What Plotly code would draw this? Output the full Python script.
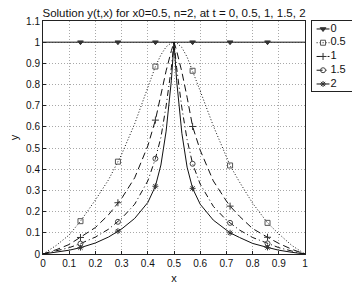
import plotly.graph_objects as go

# ---- data ----
x_curve = [0, 0.05, 0.1, 0.143, 0.2, 0.25, 0.286, 0.3, 0.35, 0.4, 0.429, 0.45, 0.47, 0.49, 0.5,
           0.51, 0.53, 0.55, 0.571, 0.6, 0.65, 0.7, 0.714, 0.75, 0.8, 0.857, 0.9, 0.95, 1.0]
y_t05 = [0, 0.04, 0.09, 0.155, 0.255, 0.35, 0.436, 0.47, 0.615, 0.785, 0.885, 0.94, 0.978, 0.997, 1.0,
         0.997, 0.975, 0.93, 0.865, 0.77, 0.605, 0.455, 0.418, 0.34, 0.24, 0.147, 0.095, 0.04, 0]
y_t1 = [0, 0.02, 0.045, 0.078, 0.125, 0.185, 0.242, 0.262, 0.36, 0.51, 0.632, 0.75, 0.865, 0.96, 1.0,
        0.96, 0.86, 0.74, 0.602, 0.49, 0.345, 0.25, 0.226, 0.178, 0.12, 0.079, 0.05, 0.022, 0]
y_t15 = [0, 0.014, 0.03, 0.049, 0.08, 0.117, 0.152, 0.168, 0.235, 0.345, 0.45, 0.55, 0.70, 0.88, 1.0,
         0.88, 0.69, 0.54, 0.426, 0.33, 0.225, 0.16, 0.147, 0.113, 0.078, 0.05, 0.03, 0.014, 0]
y_t2 = [0, 0.008, 0.018, 0.030, 0.052, 0.08, 0.108, 0.118, 0.168, 0.243, 0.32, 0.42, 0.58, 0.82, 1.0,
        0.82, 0.57, 0.41, 0.31, 0.235, 0.16, 0.112, 0.10, 0.078, 0.05, 0.031, 0.018, 0.008, 0]
x_t0 = [0, 1]
y_t0 = [1, 1]

x_marks = [0.143, 0.286, 0.429, 0.571, 0.714, 0.857]
m_t0 = [1, 1, 1, 1, 1, 1]
m_t05 = [0.155, 0.436, 0.885, 0.865, 0.418, 0.147]
m_t1 = [0.078, 0.242, 0.632, 0.602, 0.226, 0.079]
m_t15 = [0.049, 0.152, 0.45, 0.426, 0.147, 0.05]
m_t2 = [0.030, 0.108, 0.32, 0.31, 0.10, 0.031]

labels = ["0", "0.5", "1", "1.5", "2"]
tick_vals = [0, 0.1, 0.2, 0.3, 0.4, 0.5, 0.6, 0.7, 0.8, 0.9, 1.0]
ytick_vals = [0, 0.1, 0.2, 0.3, 0.4, 0.5, 0.6, 0.7, 0.8, 0.9, 1.0, 1.1]
tick_text = ["0", "0.1", "0.2", "0.3", "0.4", "0.5", "0.6", "0.7", "0.8", "0.9", "1"]
ytick_text = tick_text + ["1.1"]

# ---- layout/style (not data) ----
# the page body has an 8px margin, so the figure is 8px smaller and offset
OFF = 8
W, H = 360 - OFF, 288 - OFF
PLOT_L, PLOT_R, PLOT_T, PLOT_B = 43 - OFF, 305 - OFF, 21 - OFF, 254 - OFF
LEG_L, LEG_R, LEG_T, LEG_B = 312 - OFF, 358 - OFF, 21 - OFF, 91 - OFF
font = "Liberation Sans, Arial, sans-serif"

series = [
    (x_t0, y_t0, m_t0, "solid", "triangle-down", "#333"),
    (x_curve, y_t05, m_t05, "1px,2px", "square-open", "#555"),
    (x_curve, y_t1, m_t1, "7px,4px", "cross-thin-open", "#333"),
    (x_curve, y_t15, m_t15, "6px,3px,1px,3px", "circle-open", "#444"),
    (x_curve, y_t2, m_t2, "solid", "asterisk-open", "#333"),
]

fig = go.Figure()
for i, ((xs, ys, ms, dash, sym, mc), lab) in enumerate(zip(series, labels)):
    fig.add_trace(go.Scatter(x=xs, y=ys, mode="lines", line=dict(color="#111", width=1, dash=dash),
                             showlegend=False, hoverinfo="skip"))
    fig.add_trace(go.Scatter(x=x_marks, y=ms, mode="markers",
                             marker=dict(symbol=sym, size=5, color=mc, line=dict(color=mc, width=1)),
                             showlegend=False, hoverinfo="skip"))
    # legend key, drawn on a small legend axis (row i)
    fig.add_trace(go.Scatter(x=[0.1, 0.38], y=[i, i], mode="lines", xaxis="x2", yaxis="y2",
                             line=dict(color="#111", width=1, dash=dash),
                             showlegend=False, hoverinfo="skip"))
    fig.add_trace(go.Scatter(x=[0.24], y=[i], mode="markers", xaxis="x2", yaxis="y2",
                             marker=dict(symbol=sym, size=5, color=mc, line=dict(color=mc, width=1)),
                             showlegend=False, hoverinfo="skip"))
    fig.add_trace(go.Scatter(x=[0.4], y=[i], mode="text", text=[lab], textposition="middle right",
                             xaxis="x2", yaxis="y2",
                             textfont=dict(size=11, color="#111", family=font),
                             showlegend=False, hoverinfo="skip"))

axis_common = dict(
    showline=True, linecolor="#222", linewidth=1, mirror=True,
    showgrid=True, gridcolor="#a8a8a8", griddash="1px,2px", gridwidth=1,
    ticks="inside", ticklen=3, tickcolor="#222",
    tickfont=dict(size=10, color="#111", family=font), zeroline=False,
)
fig.update_layout(
    xaxis=dict(domain=[PLOT_L / W, PLOT_R / W], range=[0, 1], tickvals=tick_vals, ticktext=tick_text,
               title=dict(text="x", font=dict(size=11, color="#111", family=font), standoff=6),
               **axis_common),
    yaxis=dict(domain=[1 - PLOT_B / H, 1 - PLOT_T / H], range=[0, 1.1], tickvals=ytick_vals,
               ticktext=ytick_text,
               title=dict(text="y", font=dict(size=11, color="#111", family=font), standoff=5),
               **axis_common),
    xaxis2=dict(domain=[LEG_L / W, LEG_R / W], range=[0, 1], showgrid=False, zeroline=False,
                showticklabels=False, ticks="", showline=True, mirror=True, linecolor="#222",
                linewidth=1, anchor="y2", fixedrange=True),
    yaxis2=dict(domain=[1 - LEG_B / H, 1 - LEG_T / H], range=[4.51, -0.58], showgrid=False,
                zeroline=False, showticklabels=False, ticks="", showline=True, mirror=True,
                linecolor="#222", linewidth=1, anchor="x2", fixedrange=True),
    width=W, height=H,
    margin=dict(l=0, r=0, t=0, b=0, autoexpand=False),
    paper_bgcolor="white", plot_bgcolor="white",
    font=dict(family=font, size=10, color="#111"),
    showlegend=False,
    title=dict(text="Solution y(t,x) for x0=0.5, n=2, at t = 0, 0.5, 1, 1.5, 2",
               font=dict(size=11.5, color="#111", family=font),
               x=(PLOT_L + PLOT_R) / 2 / W, xanchor="center", xref="container",
               y=1 - (12.5 - OFF) / H, yanchor="middle", yref="container"),
)

fig.write_html("out.html")
